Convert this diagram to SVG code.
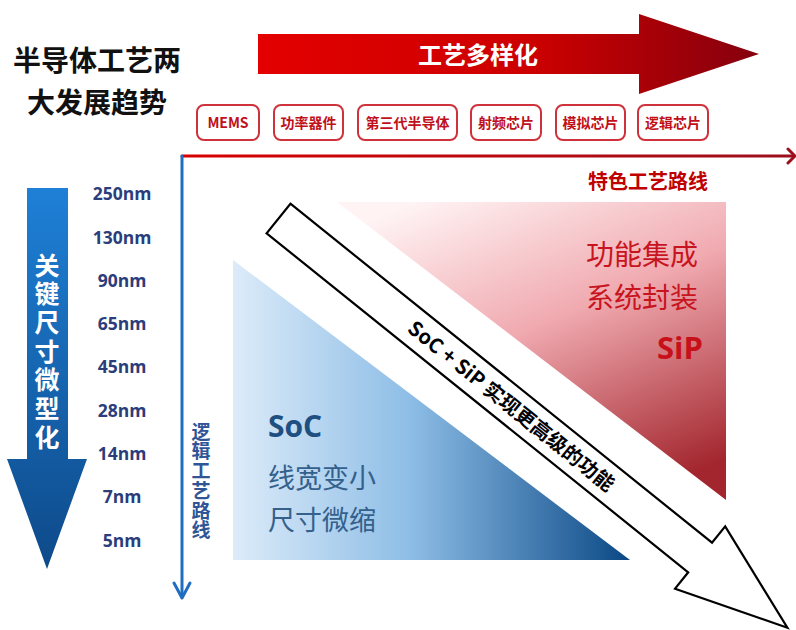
<svg xmlns="http://www.w3.org/2000/svg" width="796" height="630" viewBox="0 0 796 630">
<defs>
<linearGradient id="gTop" x1="0" y1="0" x2="1" y2="0">
<stop offset="0" stop-color="#e30000"/><stop offset="0.55" stop-color="#cc0000"/><stop offset="1" stop-color="#85000e"/>
</linearGradient>
<linearGradient id="gLeft" x1="0" y1="0" x2="0" y2="1">
<stop offset="0" stop-color="#1e80d6"/><stop offset="1" stop-color="#0e4a8a"/>
</linearGradient>
<linearGradient id="gBlue" x1="0" y1="0" x2="1" y2="0">
<stop offset="0" stop-color="#dcebf9"/><stop offset="0.45" stop-color="#8dbde6"/><stop offset="1" stop-color="#0a4885"/>
</linearGradient>
<linearGradient id="gRed" x1="0.2" y1="0" x2="0.75" y2="1">
<stop offset="0" stop-color="#fff3f4"/><stop offset="0.45" stop-color="#f0aab0"/><stop offset="1" stop-color="#a3262e"/>
</linearGradient>
<linearGradient id="gRedLine" gradientUnits="userSpaceOnUse" x1="182" y1="0" x2="796" y2="0">
<stop offset="0" stop-color="#d80000"/><stop offset="1" stop-color="#9c0f1c"/>
</linearGradient>
<style>
.cjk{font-family:"Noto Sans CJK SC","Noto Sans",sans-serif}
.lat{font-family:"Open Sans","Noto Sans CJK SC",sans-serif}
.b{font-weight:bold}
.vt{writing-mode:tb;text-orientation:upright}
.box{fill:#fff;stroke:#d0323c;stroke-width:2}
.boxt{font-family:"Noto Sans CJK SC",sans-serif;font-weight:bold;font-size:14px;fill:#c0101a;text-anchor:middle}
.nm{font-family:"Open Sans","Noto Sans CJK SC",sans-serif;font-weight:bold;font-size:17.5px;fill:#2b3d7a;text-anchor:middle}
</style>
</defs>
<rect width="796" height="630" fill="#fff"/>

<g id="title">
<text class="cjk b" x="97" y="70.5" font-size="28" text-anchor="middle" fill="#111">半导体工艺两</text>
<text class="cjk b" x="97" y="112.5" font-size="28" text-anchor="middle" fill="#111">大发展趋势</text>
</g>

<g id="top-arrow">
<polygon points="258,34 639,34 639,14 759,54 639,94 639,74 258,74" fill="url(#gTop)"/>
<text class="cjk b" x="478" y="64" font-size="24" text-anchor="middle" fill="#fff">工艺多样化</text>
</g>

<g id="process-boxes">
<g id="box-mems"><rect class="box" x="197" y="105" width="62" height="35" rx="7"/><text class="boxt" x="228" y="127.5" font-size="13">MEMS</text></g>
<g id="box-power"><rect class="box" x="274" y="105" width="69" height="35" rx="7"/><text class="boxt" x="308.5" y="127.5">功率器件</text></g>
<g id="box-third"><rect class="box" x="358" y="105" width="99" height="35" rx="7"/><text class="boxt" x="407.5" y="127.5">第三代半导体</text></g>
<g id="box-rf"><rect class="box" x="471" y="105" width="70" height="35" rx="7"/><text class="boxt" x="506" y="127.5">射频芯片</text></g>
<g id="box-analog"><rect class="box" x="556" y="105" width="69" height="35" rx="7"/><text class="boxt" x="590.5" y="127.5">模拟芯片</text></g>
<g id="box-logic"><rect class="box" x="638" y="105" width="70" height="35" rx="7"/><text class="boxt" x="673" y="127.5">逻辑芯片</text></g>
</g>

<g id="connectors" fill="none" stroke-linecap="round" stroke-linejoin="round">
<path d="M182,156 H794" stroke="url(#gRedLine)" stroke-width="3"/>
<path d="M788,149 L795,156 L788,163" stroke="#9c0f1c" stroke-width="3"/>
<path d="M182,156 V597" stroke="#1f6fc0" stroke-width="3"/>
<path d="M174,583 L182,598 L190,583" stroke="#1f6fc0" stroke-width="3"/>
</g>

<g id="axis-labels">
<text class="cjk b" x="648" y="188.5" font-size="20" text-anchor="middle" fill="#c00000">特色工艺路线</text>
<text class="cjk b vt" x="201" y="422" font-size="19" letter-spacing="0.7" fill="#2f5597">逻辑工艺路线</text>
</g>

<g id="left-arrow">
<polygon points="27,188 68,188 68,459 87,459 47,569 7,459 27,459" fill="url(#gLeft)"/>
<text class="cjk b vt" x="47" y="252.5" font-size="25" letter-spacing="3.7" fill="#fff">关键尺寸微型化</text>
</g>

<g id="node-sizes">
<text class="nm" x="122" y="200.3">250nm</text>
<text class="nm" x="122" y="243.5">130nm</text>
<text class="nm" x="122" y="286.8">90nm</text>
<text class="nm" x="122" y="330.1">65nm</text>
<text class="nm" x="122" y="373.4">45nm</text>
<text class="nm" x="122" y="416.7">28nm</text>
<text class="nm" x="122" y="460">14nm</text>
<text class="nm" x="122" y="503.3">7nm</text>
<text class="nm" x="122" y="546.6">5nm</text>
</g>

<g id="soc-triangle">
<polygon points="233,260 233,560 630,560" fill="url(#gBlue)"/>
<text class="lat b" x="268" y="437" font-size="30" fill="#1f4f80">SoC</text>
<text class="cjk" x="268" y="488" font-size="27" fill="#34608c">线宽变小</text>
<text class="cjk" x="268" y="530" font-size="27" fill="#34608c">尺寸微缩</text>
</g>

<g id="sip-triangle">
<polygon points="337,202 726,202 726,500" fill="url(#gRed)"/>
<text class="cjk" x="586" y="264.5" font-size="28" fill="#c8141e">功能集成</text>
<text class="cjk" x="586" y="307.5" font-size="28" fill="#c8141e">系统封装</text>
<text class="lat b" x="703" y="359" font-size="31" text-anchor="end" fill="#c8101a">SiP</text>
</g>

<g id="combined-arrow" transform="translate(278.5,218.5) rotate(38.8)">
<polygon points="0,-19 541,-19 541,-40 653,0 541,40 541,19 0,19" fill="#fff" stroke="#000" stroke-width="2.2" stroke-linejoin="miter"/>
<text class="cjk b" x="299" y="7.5" font-size="20" text-anchor="middle" fill="#000" textLength="258" lengthAdjust="spacing">SoC + SiP 实现更高级的功能</text>
</g>
</svg>
